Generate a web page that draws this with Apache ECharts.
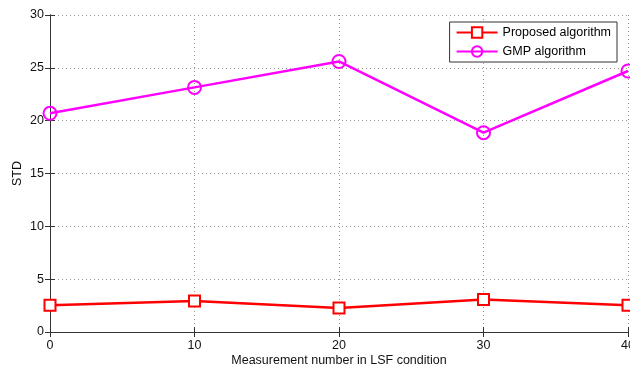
<!DOCTYPE html>
<html>
<head>
<meta charset="utf-8">
<script src="https://cdn.jsdelivr.net/npm/echarts@6/dist/echarts.min.js"></script>
<style>
html,body{margin:0;padding:0;background:#fff;}
#chart{width:630px;height:372px;}
</style>
</head>
<body>
<div id="chart"></div>
<script>
const measurements = [0, 10, 20, 30, 40];
const proposedSTD = [2.53, 2.93, 2.27, 3.07, 2.53];
const gmpSTD = [20.7, 23.15, 25.6, 18.86, 24.7];
const seriesNames = ['Proposed algorithm', 'GMP algorithm'];
const xTitle = 'Measurement number in LSF condition';
const yTitle = 'STD';

const font = 'Liberation Sans, Arial, sans-serif';
const axisColor = '#333';
const chart = echarts.init(document.getElementById('chart'), null, {renderer: 'canvas'});

function pairs(xs, ys) { return xs.map((x, i) => [x, ys[i]]); }

const option = {
  animation: false,
  backgroundColor: '#fff',
  textStyle: {fontFamily: font},
  grid: {left: 50, right: 2, top: 15, bottom: 40, containLabel: false, outerBoundsMode: 'none'},
  legend: {
    orient: 'vertical',
    right: 13,
    top: 22,
    backgroundColor: '#fff',
    borderColor: '#333',
    borderWidth: 1,
    borderRadius: 0,
    padding: [4, 6, 4, 6],
    itemGap: 6,
    itemWidth: 41,
    itemHeight: 13,
    textStyle: {fontFamily: font, fontSize: 12.5, color: '#000'},
    data: seriesNames
  },
  xAxis: [{
    type: 'value', min: 0, max: 40, interval: 10,
    name: xTitle, nameLocation: 'middle', nameGap: 22, nameMoveOverlap: false,
    nameTextStyle: {fontFamily: font, fontSize: 12.5, color: '#111'},
    axisLine: {show: true, lineStyle: {color: axisColor, width: 1}},
    axisTick: {show: true, inside: true, length: 5, lineStyle: {color: axisColor}},
    axisLabel: {fontFamily: font, fontSize: 12.5, color: '#111', margin: 7},
    splitLine: {show: true, lineStyle: {color: '#999', type: [1, 3], width: 1}}
  }, {
    type: 'value', min: 0, max: 40, interval: 10, position: 'top',
    axisLine: {show: true, lineStyle: {color: axisColor, width: 1}},
    axisTick: {show: true, inside: true, length: 5, lineStyle: {color: axisColor}},
    axisLabel: {show: false},
    splitLine: {show: false}
  }],
  yAxis: [{
    type: 'value', min: 0, max: 30, interval: 5,
    name: yTitle, nameLocation: 'middle', nameGap: 26, nameMoveOverlap: false,
    nameTextStyle: {fontFamily: font, fontSize: 12.5, color: '#111'},
    axisLine: {show: true, lineStyle: {color: axisColor, width: 1}},
    axisTick: {show: true, inside: true, length: 5, lineStyle: {color: axisColor}},
    axisLabel: {fontFamily: font, fontSize: 12.5, color: '#111', margin: 6},
    splitLine: {show: true, lineStyle: {color: '#999', type: [1, 3], width: 1}}
  }, {
    type: 'value', min: 0, max: 30, interval: 5, position: 'right',
    axisLine: {show: true, lineStyle: {color: axisColor, width: 1}},
    axisTick: {show: true, inside: true, length: 5, lineStyle: {color: axisColor}},
    axisLabel: {show: false},
    splitLine: {show: false}
  }],
  series: [{
    name: seriesNames[0],
    type: 'line',
    xAxisIndex: 0, yAxisIndex: 0,
    data: pairs(measurements, proposedSTD),
    symbol: 'rect', symbolSize: 11,
    showAllSymbol: true,
    lineStyle: {color: '#ff0000', width: 2.5},
    itemStyle: {color: '#fff', borderColor: '#ff0000', borderWidth: 2},
    color: '#ff0000',
    clip: false
  }, {
    name: seriesNames[1],
    type: 'line',
    xAxisIndex: 0, yAxisIndex: 0,
    data: pairs(measurements, gmpSTD),
    symbol: 'circle', symbolSize: 13,
    showAllSymbol: true,
    lineStyle: {color: '#ff00ff', width: 2.5},
    itemStyle: {color: 'rgba(255,255,255,0)', borderColor: '#ff00ff', borderWidth: 2},
    color: '#ff00ff',
    clip: false
  }]
};
chart.setOption(option);
</script>
</body>
</html>
